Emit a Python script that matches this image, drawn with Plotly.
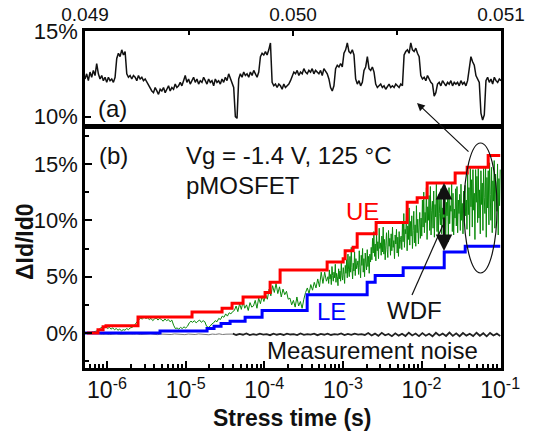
import numpy as np
import plotly.graph_objects as go

# ---------------- data ----------------
# Panel (a): zoomed RTN trace, time 0.049 .. 0.051 s, dId/Id0 in %
A_T_START, A_T_END = 0.049, 0.051
A_VALUES = [12.2, 12.5, 12.1, 12.6, 12.3, 12.7, 12.4, 13.1, 12.5, 12.2, 12.4, 12.1, 12.3, 12.0, 12.3, 12.1, 12.2, 12.0, 12.3,
            13.4, 13.7, 13.5, 13.9, 13.6, 13.8,
            12.5, 12.3, 12.4, 12.2, 12.4, 12.3, 12.1, 12.4, 12.2, 12.3, 12.1, 12.2,
            12.0, 11.8, 11.6, 11.5,
            11.4, 11.7, 11.5, 11.3, 11.6, 11.5, 11.7, 11.4, 11.6, 11.8, 11.5, 11.7, 11.6, 11.9, 11.7, 11.8, 12.0, 11.8, 12.1, 12.4,
            12.0, 12.2, 11.9, 12.1, 12.3, 12.0, 12.2, 11.9, 12.1, 12.0, 12.3, 12.1, 11.9, 12.2, 12.0, 12.1, 11.8, 12.2, 12.0, 12.1,
            11.9, 12.2, 12.0, 12.3, 12.1, 12.5, 12.2, 12.0, 11.7,
            10.0, 9.9,
            12.2, 12.5, 12.3, 12.6, 12.4, 12.5, 12.3, 12.6, 12.4, 12.7, 12.5, 12.3, 12.6,
            13.5, 13.7, 13.6, 13.8, 13.6, 13.9, 14.3,
            12.0, 11.8, 11.9, 11.7, 11.9, 11.8, 11.6, 11.9, 11.7, 11.8, 11.9, 12.1,
            12.4, 12.6, 12.5, 12.7, 12.4, 12.6, 12.5, 12.8, 12.6, 12.5, 12.7, 12.6, 12.8, 12.5, 12.7, 12.6, 12.5, 12.7, 12.4, 12.8,
            12.6, 12.5, 12.2,
            11.7, 11.5, 11.8,
            12.8, 13.0, 12.9, 13.1, 12.9,
            13.7, 13.9, 14.3, 13.8, 13.7, 13.9, 13.6,
            12.2, 11.9, 12.1, 11.8, 12.0,
            12.7, 12.9, 13.5, 12.8, 12.7, 12.9, 12.6,
            11.9, 11.7, 11.8, 11.9, 11.7, 11.8, 11.6, 11.8, 11.9, 11.7, 11.8, 11.7, 11.9, 11.8, 11.7, 11.9, 11.8,
            13.6, 13.8, 13.9, 13.7, 14.3, 13.9, 13.8, 14.0, 13.7, 13.5,
            12.4, 12.2, 12.3, 12.1, 12.4, 12.2, 12.0, 11.9,
            11.2, 11.4,
            11.9, 12.0, 11.8, 12.1, 11.9, 11.8, 12.0, 11.9, 12.1, 11.8, 12.0, 11.9, 12.0, 11.8, 12.1, 11.9, 12.0, 11.8, 12.1,
            13.0, 13.5, 13.2, 13.0,
            12.4, 12.2, 12.0,
            10.2, 9.8, 10.1,
            12.1, 12.3, 12.0, 12.2, 11.9, 12.3, 12.1, 12.0, 12.2, 12.1]

# Panel (b): upper envelope (UE) and lower envelope (LE), log10(time) and %
UE_LOGT = [-6.254, -6.115, -6.05, -6.013, -5.606, -4.919, -4.537, -4.410, -4.270, -3.990, -3.926, -3.799,
           -3.201, -2.997, -2.972, -2.870, -2.819, -2.578, -2.183, -2.056, -1.929, -1.573, -1.420, -1.153, -1.0]
UE_Y = [0.0, 0.3, 0.55, 0.65, 1.42, 1.86, 2.2, 2.65, 3.2, 3.6, 4.5, 5.6,
        6.3, 6.6, 7.3, 7.6, 8.8, 9.8, 11.6, 12.0, 13.3, 14.2, 14.7, 15.75, 15.75]

LE_LOGT = [-6.28, -5.326, -4.728, -4.639, -4.550, -4.435, -4.244, -4.028, -3.455, -2.692, -2.590, -2.234,
           -1.712, -1.445, -1.0]
LE_Y = [0.0, 0.18, 0.4, 0.6, 0.85, 1.05, 1.4, 2.0, 3.4, 4.5, 5.1, 5.8, 7.2, 7.7, 7.7]

# WDF (green) trace, early part (log-time grid -6.28 .. -3.21)
G1_LOGT_START, G1_LOGT_END = -6.28, -3.21
G1_VALUES = [0.0, 0.02, 0.05, 0.03, 0.08, 0.1, 0.15, 0.2, 0.3,
             0.45, 0.55, 0.5, 0.6, 0.4, 0.5, 0.35, 0.45, 0.3, 0.4, 0.25,
             0.35, 0.2, 0.3, 0.25, 0.4, 0.3, 0.45, 0.5, 0.6,
             0.8, 1.0, 1.2, 1.3, 1.25, 1.4, 1.3,
             1.35, 1.2, 1.3, 1.1, 1.25, 1.35, 1.15, 1.3, 1.2, 1.05, 1.25, 1.1, 1.2, 1.0, 1.15,
             0.7, 0.4,
             0.45, 0.35, 0.5, 0.4, 0.55, 0.45, 0.6,
             0.9, 1.05, 0.95, 1.1, 0.9, 1.05, 1.15, 0.95, 1.1, 1.0,
             0.6, 0.5, 0.6,
             0.8, 0.9, 1.1, 1.0, 1.3, 1.2, 1.5, 1.4, 1.7, 1.5, 1.8, 1.7, 1.9,
             2.0, 2.4, 1.9, 2.6, 2.1, 2.8, 2.2, 2.5, 2.0, 2.7, 2.3,
             2.4, 2.9, 2.2, 3.1, 2.6, 3.3, 2.8,
             3.4, 3.0, 3.9, 3.3, 4.2, 3.6, 4.4, 3.5, 4.1, 3.2, 3.9, 3.4, 3.7, 3.0,
             3.1, 2.5, 2.9, 2.3, 3.2, 2.4, 2.8, 2.2, 3.0,
             3.6, 4.0, 3.5, 4.3, 3.8, 4.5, 4.0,
             4.8, 4.1, 5.4, 4.4, 5.4, 4.6]

# WDF (green) trace, late dense part (log-time grid -3.19 .. -1.0)
G2_LOGT_START, G2_LOGT_END = -3.19, -1.0
G2_VALUES = [5.0, 4.4, 5.6, 4.8, 5.2, 4.3, 5.9, 5.1, 4.6, 5.4, 4.9, 6.1, 4.5, 5.3, 5.0, 4.2, 5.7, 4.8, 5.5, 4.6,
             6.2, 5.1, 4.7, 5.8, 5.2, 4.4, 6.0,
             5.3, 6.5, 4.9, 7.0, 5.6, 5.0, 6.8, 5.4, 7.6, 5.8, 4.8, 6.2, 5.5, 7.2, 5.1, 6.6, 5.7, 6.0,
             6.4, 5.2, 7.3, 5.8, 4.9, 6.9, 6.0, 7.5, 5.4, 6.6, 5.0, 7.1, 6.2, 5.6, 7.4, 5.9, 6.8, 5.3, 7.0, 6.3,
             7.6, 6.5, 8.4, 7.1, 9.0, 6.8, 7.9, 6.4, 8.8, 7.3, 8.1, 6.6, 9.3, 7.5, 8.0, 6.9, 8.6, 7.2, 9.4, 7.0,
             8.3, 6.5, 7.8, 8.9, 7.4, 6.7, 9.1, 7.7, 8.4, 6.9, 8.8, 7.3, 9.4, 7.6, 8.2, 6.6, 8.7, 7.9, 9.2, 7.1,
             8.5, 6.8, 9.0, 7.5, 8.3,
             8.6, 7.4, 9.8, 8.1, 10.6, 7.6, 9.2, 8.8, 10.9, 7.3, 9.5, 8.3, 11.1, 7.8, 9.9, 8.6, 10.4, 7.5, 9.1, 10.8,
             8.0, 9.6, 7.7, 11.3, 8.9, 10.1, 7.9, 9.4, 10.7, 8.4,
             10.2, 8.6, 11.8, 9.4, 12.5, 8.9, 10.7, 9.8, 12.9, 8.3, 11.2, 10.0, 12.2, 9.1, 13.0, 8.7, 10.9, 11.7, 9.3, 12.6,
             8.5, 11.4, 10.3, 13.2, 9.0, 11.9, 8.4, 12.3, 10.6, 9.6, 12.8, 8.8, 11.1, 10.1, 12.7, 9.2, 13.1, 8.6, 11.6, 10.4,
             12.0, 8.1, 12.9, 9.7, 11.3, 10.8, 13.2, 9.0, 12.4, 8.7, 11.0, 10.2, 12.8, 9.5, 13.0, 8.9, 11.8, 10.6, 12.3, 9.1,
             13.2, 10.0, 11.5, 8.8, 12.6, 9.9, 13.1, 10.4,
             11.8, 9.2, 14.3, 10.5, 12.9, 8.6, 14.6, 11.2, 13.6, 9.4, 14.5, 10.9, 12.4, 8.3, 14.5, 11.6, 13.9, 9.8, 14.6, 10.2,
             12.7, 8.8, 14.4, 11.4, 13.3, 9.1, 14.6, 12.0, 10.6, 14.7, 8.5, 13.8, 11.1, 14.4, 9.6, 15.1, 12.3, 10.0, 14.7, 8.9,
             13.5, 11.7, 15.3, 9.3, 14.1, 12.5, 10.8, 15.0, 8.7, 13.7, 11.3, 14.5]

# Measurement noise (black): early faint part and later thicker part
N1_LOGT_START, N1_LOGT_END = -6.1, -4.4
N1_VALUES = [-0.08, -0.12, -0.09, -0.13, -0.1, -0.07, -0.12, -0.1, -0.14, -0.09, -0.11, -0.08, -0.13, -0.1, -0.12,
             -0.07, -0.11, -0.14, -0.09, -0.12, -0.1, -0.13, -0.08, -0.12, -0.1, -0.14, -0.09, -0.11, -0.13, -0.08,
             -0.12, -0.1, -0.15, -0.09, -0.12, -0.07, -0.13, -0.1, -0.12, -0.09]
N2_LOGT_START, N2_LOGT_END = -4.4, -1.0
N2_VALUES = [-0.05, -0.17, -0.08, -0.15, -0.04, -0.18, -0.1, -0.16, -0.06, -0.14, -0.09, -0.19, -0.05, -0.15, -0.08,
             -0.17, -0.06, -0.13, -0.1, -0.18, -0.04, -0.16, -0.09, -0.14, -0.06, -0.19, -0.08, -0.15, -0.05, -0.17,
             -0.1, -0.14, -0.04, -0.18, -0.08, -0.16, -0.06, -0.13, -0.09, -0.17,
             0.0, -0.22, -0.05, -0.25, 0.02, -0.2, -0.08, -0.28, -0.02, -0.23, -0.06, -0.26, 0.03, -0.21, -0.04,
             -0.27, -0.01, -0.24, -0.07, -0.29, 0.02, -0.22, -0.05, -0.26, 0.04, -0.25, -0.03, -0.28, 0.0, -0.23,
             -0.06, -0.27, 0.03, -0.24, -0.02, -0.29, 0.01, -0.22, -0.05, -0.26]

X_TICK_EXP = [-6, -5, -4, -3, -2, -1]
Y_TICKS_B = [0, 5, 10, 15]
Y_TICKS_A = [10, 15]
A_X_TICKS = [0.049, 0.050, 0.051]

# ---------------- figure ----------------
FONT = "Liberation Sans, Arial, sans-serif"
W, H = 534, 435
ML, MR, MT, MB = 85, 33, 31, 67
PW, PH = W - ML - MR, H - MT - MB


def px(x):
    return (x - ML) / PW


def py(y):
    return (H - MB - y) / PH


fig = go.Figure()

a_t = np.linspace(A_T_START, A_T_END, len(A_VALUES))
fig.add_trace(go.Scatter(x=a_t, y=A_VALUES, mode="lines", line=dict(color="#111111", width=1.5),
                         xaxis="x", yaxis="y", showlegend=False))

n1_t = 10 ** np.linspace(N1_LOGT_START, N1_LOGT_END, len(N1_VALUES))
fig.add_trace(go.Scatter(x=n1_t, y=N1_VALUES, mode="lines", line=dict(color="#777777", width=1),
                         xaxis="x2", yaxis="y2", showlegend=False))
n2_t = 10 ** np.linspace(N2_LOGT_START, N2_LOGT_END, len(N2_VALUES))
fig.add_trace(go.Scatter(x=n2_t, y=N2_VALUES, mode="lines", line=dict(color="#222222", width=1.8),
                         xaxis="x2", yaxis="y2", showlegend=False))

g1_t = 10 ** np.linspace(G1_LOGT_START, G1_LOGT_END, len(G1_VALUES))
g2_t = 10 ** np.linspace(G2_LOGT_START, G2_LOGT_END, len(G2_VALUES))
fig.add_trace(go.Scatter(x=np.concatenate([g1_t, g2_t]), y=G1_VALUES + G2_VALUES, mode="lines",
                         line=dict(color="#0a8a0a", width=1, simplify=False),
                         xaxis="x2", yaxis="y2", showlegend=False))

fig.add_trace(go.Scatter(x=10 ** np.array(LE_LOGT), y=LE_Y, mode="lines", line=dict(color="#0000ff", width=3, shape="hv"),
                         xaxis="x2", yaxis="y2", showlegend=False))
fig.add_trace(go.Scatter(x=10 ** np.array(UE_LOGT), y=UE_Y, mode="lines", line=dict(color="#ff0000", width=3, shape="hv"),
                         xaxis="x2", yaxis="y2", showlegend=False))

axis_common = dict(showline=True, mirror=True, linecolor="black", linewidth=2.5, showgrid=False, zeroline=False,
                   ticks="inside", tickcolor="black", tickwidth=2, automargin=False)

fig.update_layout(
    width=W, height=H, template="none",
    margin=dict(l=ML, r=MR, t=MT, b=MB),
    paper_bgcolor="white", plot_bgcolor="white",
    font=dict(family=FONT, color="#111111"),
    xaxis=dict(axis_common, anchor="y", side="top", range=[A_T_START, A_T_END], domain=[0, 1],
               tickvals=A_X_TICKS, ticktext=["0.049", "0.050", "0.051"], ticklen=5,
               tickfont=dict(size=19, family=FONT),
               minor=dict(ticks="inside", ticklen=4, tickcolor="black", tickwidth=2,
                          tickvals=[0.0495, 0.0505])),
    yaxis=dict(axis_common, anchor="x", domain=[py(124), 1.0], range=[9.57, 15.0],
               tickvals=Y_TICKS_A, ticktext=[f"{v}%" for v in Y_TICKS_A], ticklen=6,
               tickfont=dict(size=22, family=FONT)),
    xaxis2=dict(axis_common, anchor="y2", type="log", range=[-6.28, -0.99], domain=[0, 1],
                tickvals=[10.0 ** e for e in X_TICK_EXP],
                ticktext=[f"10<sup>{e}</sup>" for e in X_TICK_EXP], ticklen=7,
                tickfont=dict(size=23, family=FONT),
                minor=dict(ticks="inside", ticklen=4, tickcolor="black", tickwidth=1.5, dtick="D1")),
    yaxis2=dict(axis_common, anchor="x2", domain=[0, py(129)], range=[-3.1, 18.1],
                tickvals=Y_TICKS_B, ticktext=[f"{v}%" for v in Y_TICKS_B], ticklen=7,
                tickfont=dict(size=22, family=FONT),
                minor=dict(ticks="inside", ticklen=4, tickcolor="black", tickwidth=2, dtick=2.5)),
)

ann = []


def text(x, y, s, size=24, color="#111111", xanchor="center", bold=False, angle=0):
    ann.append(dict(x=px(x), y=py(y), xref="paper", yref="paper", text=f"<b>{s}</b>" if bold else s,
                    showarrow=False, xanchor=xanchor, yanchor="middle", textangle=angle,
                    font=dict(size=size, color=color, family=FONT)))


text(112, 108, "(a)")
text(113, 155, "(b)")
text(184, 155, "Vg = -1.4 V, 125 °C", xanchor="left")
text(184, 185, "pMOSFET", xanchor="left")
text(362, 211, "UE", color="#ff0000")
text(331, 311, "LE", color="#0000ff")
text(414, 310, "WDF")
text(372, 350, "Measurement noise")
text(292, 418, "Stress time (s)", size=23, bold=True)
text(25, 242, "ΔId/Id0", size=23, bold=True, angle=-90)

# arrows
ann.append(dict(x=px(417), y=py(103), xref="paper", yref="paper", ax=53, ay=50, text="", showarrow=True,
                arrowhead=2, arrowsize=1.3, arrowwidth=1.2, arrowcolor="#111111"))
ann.append(dict(x=px(444), y=py(183), xref="paper", yref="paper", ax=0, ay=33, text="", showarrow=True,
                arrowhead=2, arrowsize=1.5, arrowwidth=2.2, arrowcolor="#111111"))
ann.append(dict(x=px(444), y=py(251), xref="paper", yref="paper", ax=0, ay=-35, text="", showarrow=True,
                arrowhead=2, arrowsize=1.5, arrowwidth=2.2, arrowcolor="#111111"))
fig.update_layout(annotations=ann)

fig.update_layout(shapes=[
    dict(type="circle", xref="paper", yref="paper", x0=px(464), x1=px(497), y0=py(273), y1=py(143),
         line=dict(color="#111111", width=1.2)),
    dict(type="line", xref="paper", yref="paper", x0=px(412), y0=py(295), x1=px(443), y1=py(225),
         line=dict(color="#111111", width=1.2)),
])

fig.write_html("out.html")
